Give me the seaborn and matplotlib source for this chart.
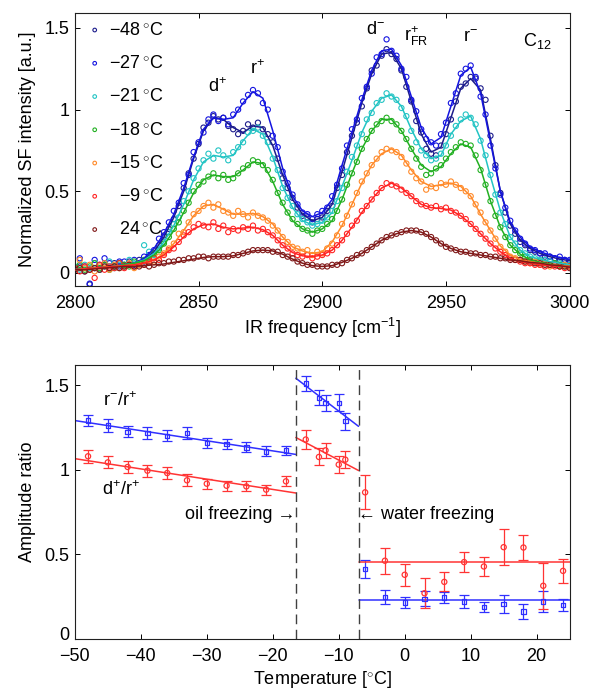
import numpy as np
import pandas as pd
import matplotlib
matplotlib.use('Agg')
import matplotlib.pyplot as plt
import matplotlib.transforms as mtrans
import seaborn as sns
from matplotlib.ticker import FormatStrFormatter

# ---- SFG spectra: measured points every 2 cm-1, fitted curves every 4 cm-1
freq_pts = np.arange(2800, 3001, 2)
freq_fit = np.arange(2800, 3001, 4)
temp_labels = ['\u221248', '\u221227', '\u221221', '\u221218', '\u221215', '\u2007\u22129', '\u200724']
spec_colors = ['#1c1c8c', '#1414e0', '#22c4c4', '#22b022', '#ff8a2a', '#ff2424', '#801818']

pts_m48 = [0.02, 0.04, 0.01, -0.07, 0.03, 0.02, 0.05, 0.03, 0.06, 0.04,
           0.05, 0.07, 0.05, 0.08, 0.07, 0.10, 0.12, 0.17, 0.23, 0.27,
           0.33, 0.41, 0.52, 0.61, 0.70, 0.79, 0.89, 0.92, 0.96, 0.94,
           0.95, 0.90, 0.88, 0.85, 0.87, 0.91, 0.89, 0.92, 0.88, 0.85,
           0.80, 0.70, 0.58, 0.52, 0.46, 0.40, 0.35, 0.34, 0.31, 0.33,
           0.34, 0.38, 0.41, 0.52, 0.60, 0.74, 0.84, 0.92, 1.02, 1.13,
           1.24, 1.27, 1.33, 1.37, 1.34, 1.31, 1.24, 1.14, 1.05, 0.93,
           0.86, 0.76, 0.73, 0.72, 0.78, 0.85, 0.94, 1.05, 1.14, 1.16,
           1.20, 1.19, 1.13, 1.06, 0.84, 0.66, 0.49, 0.37, 0.29, 0.24,
           0.19, 0.17, 0.14, 0.13, 0.12, 0.10, 0.10, 0.09, 0.08, 0.08,
           0.07]
pts_m27 = [0.03, 0.09, 0.04, -0.065, 0.08, 0.05, 0.09, 0.06, 0.04, 0.07,
           0.07, 0.05, 0.08, 0.06, 0.10, 0.11, 0.14, 0.21, 0.25, 0.31,
           0.38, 0.43, 0.55, 0.60, 0.74, 0.80, 0.86, 0.94, 0.97, 0.93,
           0.95, 0.91, 0.97, 1.00, 1.05, 1.09, 1.12, 1.10, 1.04, 1.00,
           0.84, 0.77, 0.62, 0.55, 0.48, 0.42, 0.37, 0.36, 0.33, 0.36,
           0.38, 0.40, 0.47, 0.54, 0.64, 0.78, 0.88, 0.94, 1.07, 1.14,
           1.22, 1.32, 1.34, 1.43, 1.36, 1.33, 1.25, 1.20, 1.06, 0.99,
           0.88, 0.82, 0.80, 0.78, 0.85, 0.92, 1.04, 1.10, 1.22, 1.25,
           1.27, 1.20, 1.08, 0.97, 0.78, 0.64, 0.48, 0.40, 0.32, 0.26,
           0.21, 0.18, 0.15, 0.14, 0.12, 0.12, 0.10, 0.09, 0.10, 0.08,
           0.08]
pts_m21 = [0.04, 0.02, 0.05, 0.03, 0.06, 0.02, 0.04, 0.07, 0.03, 0.05,
           0.04, 0.08, 0.06, 0.05, 0.17, 0.13, 0.11, 0.15, 0.19, 0.25,
           0.30, 0.34, 0.44, 0.50, 0.58, 0.64, 0.69, 0.73, 0.70, 0.75,
           0.72, 0.69, 0.74, 0.77, 0.80, 0.86, 0.87, 0.89, 0.84, 0.80,
           0.70, 0.63, 0.52, 0.46, 0.41, 0.36, 0.33, 0.31, 0.29, 0.30,
           0.32, 0.34, 0.38, 0.44, 0.52, 0.62, 0.71, 0.78, 0.85, 0.94,
           0.98, 1.04, 1.06, 1.10, 1.08, 1.06, 1.01, 0.96, 0.87, 0.80,
           0.75, 0.72, 0.69, 0.70, 0.73, 0.78, 0.84, 0.90, 0.94, 0.97,
           0.95, 0.91, 0.81, 0.72, 0.60, 0.48, 0.37, 0.30, 0.22, 0.18,
           0.14, 0.12, 0.10, 0.09, 0.08, 0.08, 0.07, 0.06, 0.06, 0.05,
           0.05]
pts_m18 = [0.03, 0.05, 0.02, 0.04, 0.06, 0.03, 0.05, 0.02, 0.04, 0.06,
           0.05, 0.04, 0.07, 0.06, 0.08, 0.09, 0.12, 0.14, 0.18, 0.22,
           0.27, 0.31, 0.38, 0.43, 0.50, 0.54, 0.56, 0.59, 0.61, 0.58,
           0.60, 0.57, 0.58, 0.61, 0.64, 0.66, 0.69, 0.68, 0.66, 0.63,
           0.57, 0.49, 0.43, 0.37, 0.33, 0.30, 0.27, 0.26, 0.24, 0.26,
           0.27, 0.30, 0.33, 0.38, 0.45, 0.54, 0.61, 0.68, 0.76, 0.82,
           0.87, 0.91, 0.93, 0.95, 0.93, 0.91, 0.87, 0.82, 0.76, 0.70,
           0.65, 0.60, 0.61, 0.64, 0.66, 0.70, 0.74, 0.77, 0.80, 0.79,
           0.78, 0.72, 0.63, 0.54, 0.44, 0.35, 0.28, 0.22, 0.17, 0.14,
           0.12, 0.10, 0.08, 0.07, 0.07, 0.06, 0.05, 0.06, 0.05, 0.04,
           0.04]
pts_m15 = [0.02, 0.08, 0.03, 0.05, 0.01, 0.04, 0.06, 0.02, 0.05, 0.03,
           0.04, 0.06, 0.03, 0.05, 0.06, 0.08, 0.07, 0.10, 0.12, 0.15,
           0.18, 0.24, 0.25, 0.31, 0.36, 0.38, 0.41, 0.43, 0.40, 0.42,
           0.38, 0.37, 0.35, 0.38, 0.36, 0.34, 0.37, 0.35, 0.34, 0.32,
           0.29, 0.26, 0.22, 0.19, 0.16, 0.15, 0.13, 0.14, 0.11, 0.13,
           0.12, 0.15, 0.18, 0.23, 0.30, 0.35, 0.42, 0.49, 0.56, 0.61,
           0.66, 0.70, 0.74, 0.76, 0.75, 0.74, 0.71, 0.67, 0.62, 0.58,
           0.56, 0.51, 0.53, 0.52, 0.55, 0.54, 0.56, 0.54, 0.52, 0.50,
           0.47, 0.42, 0.37, 0.31, 0.26, 0.21, 0.16, 0.13, 0.10, 0.09,
           0.08, 0.07, 0.06, 0.07, 0.05, 0.06, 0.04, 0.05, 0.04, 0.05,
           0.04]
pts_m9 = [0.03, 0.01, 0.04, 0.02, -0.03, 0.05, 0.02, 0.04, 0.03, 0.06,
          0.03, 0.05, 0.04, 0.06, 0.05, 0.07, 0.09, 0.08, 0.11, 0.14,
          0.15, 0.19, 0.23, 0.25, 0.28, 0.30, 0.29, 0.28, 0.31, 0.27,
          0.29, 0.25, 0.27, 0.26, 0.28, 0.27, 0.29, 0.26, 0.27, 0.25,
          0.23, 0.20, 0.17, 0.15, 0.12, 0.11, 0.10, 0.11, 0.09, 0.10,
          0.11, 0.12, 0.14, 0.17, 0.20, 0.24, 0.29, 0.32, 0.38, 0.41,
          0.45, 0.49, 0.52, 0.55, 0.54, 0.53, 0.51, 0.49, 0.47, 0.44,
          0.42, 0.41, 0.40, 0.41, 0.39, 0.40, 0.38, 0.37, 0.35, 0.33,
          0.30, 0.27, 0.24, 0.21, 0.18, 0.15, 0.13, 0.11, 0.09, 0.08,
          0.07, 0.06, 0.06, 0.05, 0.05, 0.04, 0.05, 0.04, 0.04, 0.03,
          0.04]
pts_p24 = [0.02, 0.03, 0.01, 0.02, 0.03, 0.02, 0.04, 0.03, 0.04, 0.03,
           0.04, 0.05, 0.04, 0.04, 0.05, 0.04, 0.05, 0.06, 0.06, 0.07,
           0.07, 0.08, 0.08, 0.09, 0.09, 0.10, 0.10, 0.09, 0.10, 0.10,
           0.10, 0.10, 0.11, 0.11, 0.12, 0.13, 0.14, 0.14, 0.14, 0.14,
           0.13, 0.13, 0.11, 0.10, 0.09, 0.07, 0.06, 0.05, 0.05, 0.04,
           0.04, 0.04, 0.05, 0.05, 0.06, 0.08, 0.09, 0.11, 0.12, 0.14,
           0.16, 0.18, 0.20, 0.22, 0.23, 0.24, 0.25, 0.26, 0.26, 0.26,
           0.25, 0.24, 0.22, 0.20, 0.18, 0.16, 0.15, 0.14, 0.13, 0.13,
           0.12, 0.12, 0.11, 0.11, 0.10, 0.10, 0.09, 0.09, 0.08, 0.08,
           0.08, 0.07, 0.07, 0.06, 0.06, 0.05, 0.05, 0.05, 0.04, 0.04,
           0.03]

fit_m48 = [0.02, 0.025, 0.03, 0.035, 0.04, 0.05, 0.06, 0.08, 0.13, 0.22, 0.34, 0.50, 0.70,
           0.87, 0.95, 0.94, 0.89, 0.86, 0.90, 0.89, 0.78, 0.60, 0.45, 0.36, 0.32, 0.34,
           0.42, 0.62, 0.83, 1.04, 1.22, 1.34, 1.35, 1.25, 1.05, 0.85, 0.74, 0.77, 0.95,
           1.13, 1.19, 1.12, 0.82, 0.50, 0.30, 0.20, 0.15, 0.12, 0.10, 0.085, 0.075]
fit_m27 = [0.02, 0.025, 0.03, 0.035, 0.04, 0.05, 0.06, 0.09, 0.15, 0.24, 0.36, 0.52, 0.71,
           0.88, 0.95, 0.94, 0.95, 1.04, 1.11, 1.07, 0.87, 0.64, 0.47, 0.38, 0.345, 0.37,
           0.45, 0.66, 0.86, 1.06, 1.24, 1.36, 1.37, 1.27, 1.08, 0.89, 0.79, 0.83, 1.02,
           1.21, 1.26, 1.10, 0.80, 0.50, 0.31, 0.22, 0.16, 0.13, 0.11, 0.095, 0.083]
fit_m21 = [0.02, 0.025, 0.03, 0.035, 0.04, 0.05, 0.06, 0.08, 0.12, 0.19, 0.29, 0.42, 0.57,
           0.68, 0.72, 0.71, 0.72, 0.81, 0.88, 0.85, 0.71, 0.53, 0.40, 0.32, 0.295, 0.31,
           0.37, 0.53, 0.69, 0.86, 0.99, 1.07, 1.09, 1.02, 0.88, 0.76, 0.70, 0.72, 0.85,
           0.93, 0.96, 0.82, 0.59, 0.38, 0.22, 0.14, 0.10, 0.085, 0.07, 0.06, 0.05]
fit_m18 = [0.02, 0.025, 0.03, 0.035, 0.04, 0.05, 0.06, 0.075, 0.11, 0.17, 0.26, 0.37, 0.49,
           0.57, 0.60, 0.59, 0.59, 0.63, 0.68, 0.67, 0.56, 0.42, 0.32, 0.27, 0.25, 0.27,
           0.32, 0.45, 0.61, 0.76, 0.87, 0.94, 0.94, 0.87, 0.76, 0.66, 0.62, 0.65, 0.73,
           0.79, 0.77, 0.64, 0.44, 0.28, 0.17, 0.115, 0.08, 0.065, 0.055, 0.045, 0.04]
fit_m15 = [0.02, 0.025, 0.03, 0.035, 0.04, 0.045, 0.05, 0.06, 0.08, 0.12, 0.18, 0.26, 0.35,
           0.41, 0.42, 0.39, 0.36, 0.36, 0.365, 0.345, 0.30, 0.22, 0.16, 0.135, 0.12, 0.13,
           0.19, 0.29, 0.42, 0.55, 0.66, 0.73, 0.76, 0.72, 0.63, 0.56, 0.53, 0.54, 0.55,
           0.53, 0.47, 0.36, 0.26, 0.165, 0.11, 0.08, 0.07, 0.06, 0.05, 0.045, 0.04]
fit_m9 = [0.02, 0.025, 0.03, 0.035, 0.04, 0.045, 0.05, 0.06, 0.08, 0.11, 0.16, 0.22, 0.27,
          0.295, 0.30, 0.28, 0.27, 0.275, 0.28, 0.265, 0.23, 0.17, 0.125, 0.105, 0.10, 0.11,
          0.14, 0.20, 0.28, 0.37, 0.45, 0.52, 0.55, 0.52, 0.47, 0.42, 0.40, 0.395, 0.385,
          0.35, 0.30, 0.24, 0.18, 0.13, 0.09, 0.07, 0.06, 0.05, 0.045, 0.04, 0.04]
fit_p24 = [0.02, 0.02, 0.025, 0.03, 0.035, 0.04, 0.04, 0.045, 0.05, 0.055, 0.065, 0.075, 0.085,
           0.095, 0.10, 0.10, 0.105, 0.12, 0.135, 0.14, 0.135, 0.115, 0.085, 0.06, 0.045, 0.04,
           0.045, 0.065, 0.09, 0.12, 0.16, 0.20, 0.23, 0.25, 0.26, 0.25, 0.22, 0.18, 0.15,
           0.13, 0.12, 0.11, 0.10, 0.09, 0.08, 0.075, 0.065, 0.06, 0.05, 0.045, 0.035]

pts_all = [pts_m48, pts_m27, pts_m21, pts_m18, pts_m15, pts_m9, pts_p24]
fit_all = [fit_m48, fit_m27, fit_m21, fit_m18, fit_m15, fit_m9, fit_p24]

# ---- amplitude ratios vs temperature
temp_oil = [-48, -45, -42, -39, -36, -33, -30, -27, -24, -21, -18]
rr_oil = [1.29, 1.26, 1.223, 1.217, 1.20, 1.217, 1.158, 1.152, 1.132, 1.108, 1.114]
rr_oil_err = [0.035, 0.037, 0.033, 0.033, 0.033, 0.037, 0.03, 0.03, 0.03, 0.03, 0.027]
dr_oil = [1.079, 1.043, 1.016, 0.994, 0.98, 0.937, 0.917, 0.905, 0.901, 0.882, 0.931]
dr_oil_err = [0.04, 0.035, 0.033, 0.036, 0.035, 0.035, 0.03, 0.03, 0.03, 0.03, 0.03]
temp_mid = [-15, -13, -12, -10, -9]
rr_mid = [1.509, 1.424, 1.394, 1.394, 1.286]
rr_mid_err = [0.046, 0.045, 0.046, 0.05, 0.05]
dr_mid = [1.178, 1.075, 1.114, 1.03, 1.059]
dr_mid_err = [0.054, 0.05, 0.044, 0.05, 0.05]
temp_warm = [-6, -3, 0, 3, 6, 9, 12, 15, 18, 21, 24]
rr_warm = [0.414, 0.247, 0.215, 0.237, 0.245, 0.221, 0.187, 0.205, 0.162, 0.221, 0.20]
rr_warm_err = [0.054, 0.042, 0.033, 0.045, 0.03, 0.037, 0.03, 0.052, 0.047, 0.06, 0.037]
dr_warm = [0.866, 0.462, 0.379, 0.27, 0.337, 0.454, 0.428, 0.542, 0.54, 0.314, 0.402]
dr_warm_err = [0.1, 0.078, 0.065, 0.089, 0.056, 0.059, 0.057, 0.107, 0.072, 0.136, 0.07]

# linear fits (end points)
fit_T_oil, rr_fit_oil, dr_fit_oil = [-50, -16.5], [1.29, 1.09], [1.065, 0.862]
fit_T_mid, rr_fit_mid, dr_fit_mid = [-16.5, -7], [1.54, 1.256], [1.19, 0.995]
fit_T_warm, rr_fit_warm, dr_fit_warm = [-7, 25], [0.231, 0.231], [0.452, 0.452]
transitions = [-16.5, -7]

# %%
sns.set_theme(style='ticks')
plt.rcParams['font.family'] = ['Liberation Sans', 'DejaVu Sans']
plt.rcParams.update({
    'mathtext.fontset': 'custom',
    'mathtext.rm': 'Liberation Sans',
    'mathtext.it': 'Liberation Sans:italic',
    'font.size': 13, 'axes.labelsize': 13,
    'xtick.labelsize': 13, 'ytick.labelsize': 13,
    'xtick.direction': 'in', 'ytick.direction': 'in',
    'xtick.top': True, 'ytick.right': True,
    'xtick.major.size': 3.5, 'ytick.major.size': 3.5,
    'xtick.major.width': 0.7, 'ytick.major.width': 0.7,
    'xtick.major.pad': 6.5, 'ytick.major.pad': 4,
    'axes.linewidth': 0.8, 'axes.edgecolor': '#202020',
    'text.color': 'black', 'axes.labelcolor': 'black',
    'xtick.color': 'black', 'ytick.color': 'black',
})

fig = plt.figure(figsize=(5.94, 6.96), dpi=100)
ax1 = fig.add_axes([0.126, 0.589, 0.833, 0.392])
ax2 = fig.add_axes([0.126, 0.082, 0.833, 0.394])

handles = []
for lab, pts, fit, c in zip(temp_labels, pts_all, fit_all, spec_colors):
    sns.scatterplot(x=freq_pts, y=pts, ax=ax1, marker='o', s=14, facecolor='none',
                    edgecolor=c, linewidth=0.8, zorder=2)
    handles.append(ax1.collections[-1])
    sns.lineplot(x=freq_fit, y=fit, ax=ax1, color=c, lw=1.1, zorder=3)

ax1.legend(handles, [t + '$\\,^{\\circ}$C' for t in temp_labels], loc='upper left',
           bbox_to_anchor=(0.0, 1.015), frameon=False, handlelength=0.8, markerscale=0.7,
           handletextpad=0.4, labelspacing=0.9, borderaxespad=0.3, fontsize=13)

ax1.set_xlim(2800, 3000)
ax1.set_ylim(-0.08, 1.59)
ax1.set_xticks(range(2800, 3001, 50))
ax1.set_yticks([0, 0.5, 1, 1.5])
ax1.yaxis.set_major_formatter(FormatStrFormatter('%g'))
ax1.set_xlabel('IR frequency [cm$^{-1}$]', labelpad=3)
ax1.set_ylabel('Normalized SF intensity [a.u.]', labelpad=6)

ax1.text(2857.5, 1.14, 'd$^{+}$', ha='center', va='center')
ax1.text(2874, 1.25, 'r$^{+}$', ha='center', va='center')
ax1.text(2921.5, 1.49, 'd$^{-}$', ha='center', va='center')
ax1.text(2933, 1.45, 'r$^{+}_{\\mathrm{FR}}$', ha='left', va='center')
ax1.text(2960, 1.44, 'r$^{-}$', ha='center', va='center')
ax1.text(2981, 1.42, 'C$_{12}$', ha='left', va='center')

# %% amplitude ratios
blue, red = '#3030ff', '#ff3434'
for T, y, e, fT, fy, c, m, s in [
        (temp_oil, rr_oil, rr_oil_err, fit_T_oil, rr_fit_oil, blue, 's', 10),
        (temp_mid, rr_mid, rr_mid_err, fit_T_mid, rr_fit_mid, blue, 's', 10),
        (temp_warm, rr_warm, rr_warm_err, fit_T_warm, rr_fit_warm, blue, 's', 10),
        (temp_oil, dr_oil, dr_oil_err, fit_T_oil, dr_fit_oil, red, 'o', 14),
        (temp_mid, dr_mid, dr_mid_err, fit_T_mid, dr_fit_mid, red, 'o', 14),
        (temp_warm, dr_warm, dr_warm_err, fit_T_warm, dr_fit_warm, red, 'o', 14)]:
    sns.lineplot(x=fT, y=fy, ax=ax2, color=c, lw=1.1)
    ax2.errorbar(T, y, yerr=e, fmt='none', ecolor=c, elinewidth=0.9, capsize=3.8, capthick=0.9)
    sns.scatterplot(x=T, y=y, ax=ax2, marker=m, s=s, facecolor='none', edgecolor=c,
                    linewidth=0.9, zorder=4)

for t in transitions:
    ax2.axvline(t, color='#404040', lw=1.0, ls=(0, (7, 4)))

ax2.set_xlim(-50, 25)
ax2.set_ylim(0, 1.62)
ax2.set_xticks(range(-50, 21, 10))
ax2.set_yticks([0, 0.5, 1, 1.5])
ax2.yaxis.set_major_formatter(FormatStrFormatter('%g'))
ax2.set_xlabel('Temperature [$^{\\circ}$C]', labelpad=3)
ax2.set_ylabel('Amplitude ratio', labelpad=6)

# lift the "0" label a little so it clears the "-50" below it
zero_lab = ax2.get_yticklabels()[0]
zero_lab.set_transform(zero_lab.get_transform() + mtrans.ScaledTranslation(0, 4 / 72, fig.dpi_scale_trans))

ax2.text(-45.8, 1.41, 'r$^{-}$/r$^{+}$', ha='left', va='center')
ax2.text(-45.9, 0.88, 'd$^{+}$/r$^{+}$', ha='left', va='center')
ax2.text(-16.6, 0.733, 'oil freezing \u2192', ha='right', va='center')
ax2.text(-7.1, 0.733, '\u2190 water freezing', ha='left', va='center')

fig.savefig('out.png', dpi=100)
